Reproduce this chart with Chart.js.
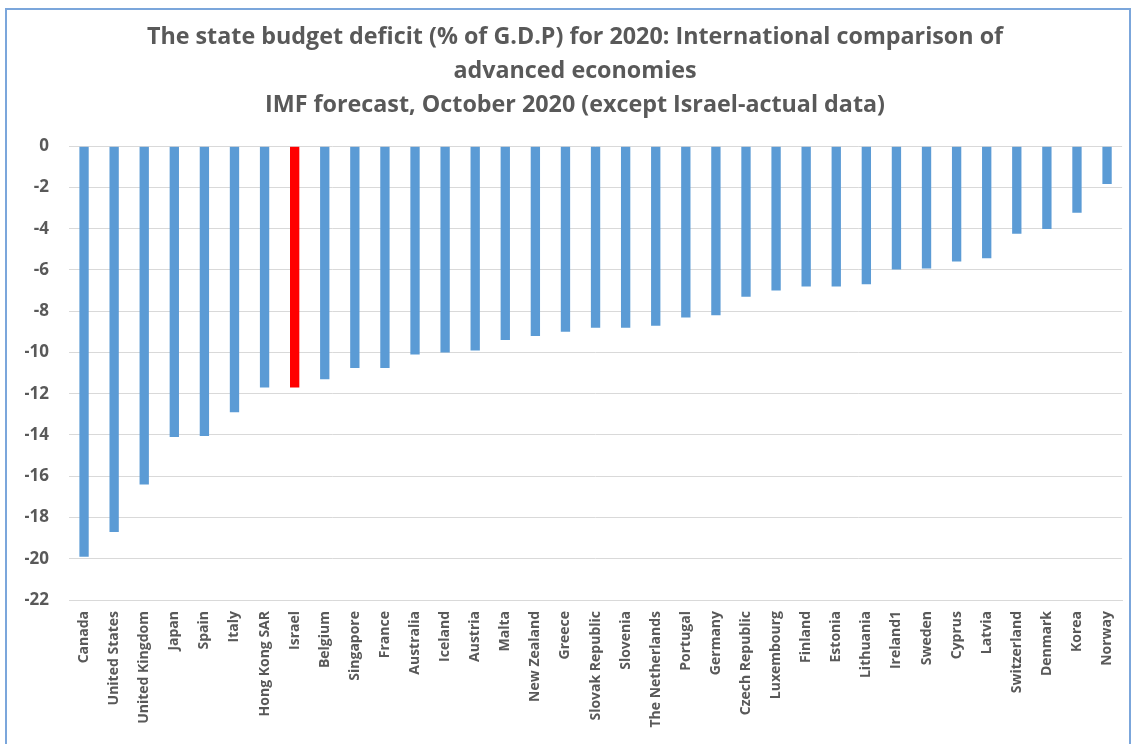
<!DOCTYPE html>
<html>
<head>
<meta charset="utf-8">
<script src="https://cdn.jsdelivr.net/npm/chart.js@4/dist/chart.umd.min.js"></script>
<style>
  html, body { margin: 0; padding: 0; background: #fff; }
  .frame { position: absolute; left: 5px; top: 8px; width: 1126px; height: 800px; border: 2px solid #7ba6db; box-sizing: border-box; }
  .wrap { position: absolute; left: 0; top: 0; width: 1135px; height: 744px; }
</style>
</head>
<body>
<div class="frame"></div>
<div class="wrap"><canvas id="deficitChart"></canvas></div>
<script>
const countries = ['Canada', 'United States', 'United Kingdom', 'Japan', 'Spain', 'Italy', 'Hong Kong SAR', 'Israel',
  'Belgium', 'Singapore', 'France', 'Australia', 'Iceland', 'Austria', 'Malta', 'New Zealand', 'Greece',
  'Slovak Republic', 'Slovenia', 'The Netherlands', 'Portugal', 'Germany', 'Czech Republic', 'Luxembourg',
  'Finland', 'Estonia', 'Lithuania', 'Ireland1', 'Sweden', 'Cyprus', 'Latvia', 'Switzerland', 'Denmark',
  'Korea', 'Norway'];
const deficit = [-19.9, -18.7, -16.4, -14.1, -14.05, -12.9, -11.7, -11.7,
  -11.3, -10.75, -10.75, -10.1, -10.0, -9.9, -9.4, -9.2, -9.0,
  -8.8, -8.8, -8.7, -8.3, -8.2, -7.3, -7.0,
  -6.8, -6.8, -6.7, -5.98, -5.93, -5.59, -5.43, -4.25, -4.02,
  -3.23, -1.83];
const titleLines = [
  'The state budget deficit (% of G.D.P) for 2020: International comparison of',
  'advanced economies',
  'IMF forecast, October 2020 (except Israel-actual data)'
];

const BLUE = '#5b9bd5';
const RED = '#ff0000';
const TEXT = '#595959';
const GRID = '#d9d9d9';
const FONT = "'Open Sans', sans-serif";

new Chart(document.getElementById('deficitChart').getContext('2d'), {
  type: 'bar',
  data: {
    labels: countries,
    datasets: [{
      data: deficit,
      backgroundColor: countries.map(c => c === 'Israel' ? RED : BLUE),
      barPercentage: 0.31,
      categoryPercentage: 1
    }]
  },
  options: {
    responsive: true,
    maintainAspectRatio: false,
    animation: false,
    // left padding keeps the title centred like the original
    layout: { padding: { left: 25, right: 10, top: 0, bottom: 0 } },
    plugins: {
      legend: { display: false },
      tooltip: { enabled: false },
      title: {
        display: true,
        text: titleLines,
        color: TEXT,
        font: { family: FONT, size: 23.3, weight: 'bold', lineHeight: 1.44 },
        padding: { top: 21, bottom: 24.5 }
      }
    },
    scales: {
      x: {
        grid: { display: false, drawTicks: false },
        border: { color: GRID, width: 1 },
        ticks: {
          color: TEXT, font: { family: FONT, size: 14, weight: 'bold' },
          minRotation: 90, maxRotation: 90, autoSkip: false, padding: 11
        },
        afterFit: s => { s.height = 144; }
      },
      y: {
        min: -22, max: 0,
        grid: { color: GRID, lineWidth: 1, drawTicks: false },
        border: { display: false },
        ticks: {
          stepSize: 2, color: TEXT, padding: 20,
          font: { family: FONT, size: 17, weight: 'bold' }
        },
        afterFit: s => { s.width = 44; }
      }
    }
  }
});
</script>
</body>
</html>
